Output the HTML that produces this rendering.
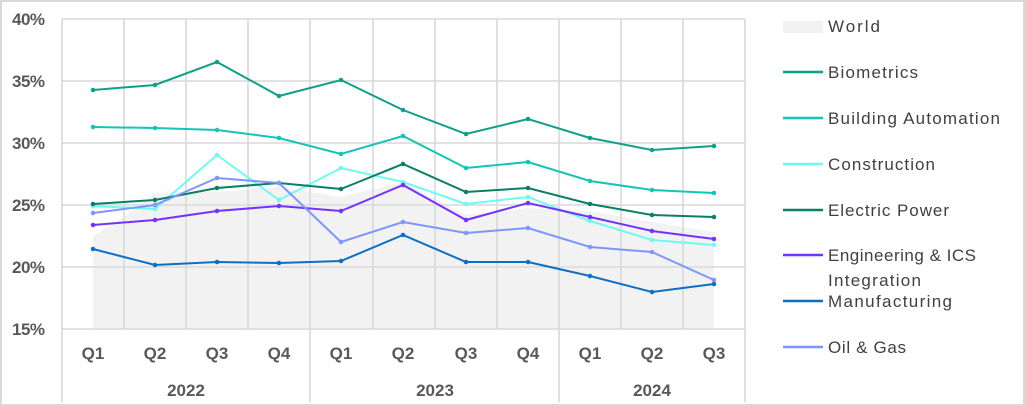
<!DOCTYPE html>
<html><head><meta charset="utf-8"><style>
body{margin:0;background:#fff}
svg{display:block;font-family:"Liberation Sans",sans-serif}
</style></head><body>
<svg width="1025" height="406" viewBox="0 0 1025 406">
<rect x="1" y="1" width="1023" height="404" fill="#fff" stroke="#d9d9d9" stroke-width="2"/>
<polygon fill="#f2f2f2" points="93,329 93,236 124,217 155,193 217,192 279,187 341,197 403,182 466,215 528,208 590,211 652,222 714,232 714,329"/>
<g stroke="#d9d9d9" stroke-width="1.6" fill="none">
<path d="M62,19H745M62,81H745M62,143H745M62,205H745M62,267H745M62,329H745"/>
<path d="M124,19V329M186,19V329M248,19V329M373,19V329M435,19V329M497,19V329M621,19V329M683,19V329"/>
<path d="M62,19V402M310,19V402M559,19V402M745,19V402"/>
</g>
<g font-size="17" font-weight="bold" fill="#595959" text-anchor="end">
<text x="45" y="25" textLength="33">40%</text><text x="45" y="87" textLength="33">35%</text><text x="45" y="149" textLength="33">30%</text><text x="45" y="211" textLength="33">25%</text><text x="45" y="273" textLength="33">20%</text><text x="45" y="335" textLength="33">15%</text>
</g>
<g font-size="17" font-weight="bold" fill="#595959" text-anchor="middle">
<text x="93" y="359">Q1</text><text x="155" y="359">Q2</text><text x="217" y="359">Q3</text><text x="279" y="359">Q4</text><text x="341" y="359">Q1</text><text x="403" y="359">Q2</text><text x="466" y="359">Q3</text><text x="528" y="359">Q4</text><text x="590" y="359">Q1</text><text x="652" y="359">Q2</text><text x="714" y="359">Q3</text>
<text x="186" y="396">2022</text><text x="435" y="396">2023</text><text x="652" y="396">2024</text>
</g>
<g fill="none" stroke-width="2">
<polyline stroke="#0FA08A" points="93,90 155,85 217,62 279,96 341,80 403,110 466,134 528,119 590,138 652,150 714,146"/>
<polyline stroke="#14C4B6" points="93,127 155,128 217,130 279,138 341,154 403,136 466,168 528,162 590,181 652,190 714,193"/>
<polyline stroke="#6EFAF2" points="93,206 155,209 217,155 279,200 341,168 403,182 466,204 528,197 590,221 652,240 714,245"/>
<polyline stroke="#0B7E66" points="93,204 155,200 217,188 279,183 341,189 403,164 466,192 528,188 590,204 652,215 714,217"/>
<polyline stroke="#7432FF" points="93,225 155,220 217,211 279,206 341,211 403,185 466,220 528,203 590,217 652,231 714,239"/>
<polyline stroke="#7E96FF" points="93,213 155,205 217,178 279,183 341,242 403,222 466,233 528,228 590,247 652,252 714,280"/>
<polyline stroke="#0B6FC4" points="93,249 155,265 217,262 279,263 341,261 403,235 466,262 528,262 590,276 652,292 714,284"/>
</g>
<g stroke-width="4.5" stroke-linecap="round" fill="none">
<path stroke="#0FA08A" d="M93,90h0M155,85h0M217,62h0M279,96h0M341,80h0M403,110h0M466,134h0M528,119h0M590,138h0M652,150h0M714,146h0"/>
<path stroke="#14C4B6" d="M93,127h0M155,128h0M217,130h0M279,138h0M341,154h0M403,136h0M466,168h0M528,162h0M590,181h0M652,190h0M714,193h0"/>
<path stroke="#6EFAF2" d="M93,206h0M155,209h0M217,155h0M279,200h0M341,168h0M403,182h0M466,204h0M528,197h0M590,221h0M652,240h0M714,245h0"/>
<path stroke="#0B7E66" d="M93,204h0M155,200h0M217,188h0M279,183h0M341,189h0M403,164h0M466,192h0M528,188h0M590,204h0M652,215h0M714,217h0"/>
<path stroke="#7432FF" d="M93,225h0M155,220h0M217,211h0M279,206h0M341,211h0M403,185h0M466,220h0M528,203h0M590,217h0M652,231h0M714,239h0"/>
<path stroke="#7E96FF" d="M93,213h0M155,205h0M217,178h0M279,183h0M341,242h0M403,222h0M466,233h0M528,228h0M590,247h0M652,252h0M714,280h0"/>
<path stroke="#0B6FC4" d="M93,249h0M155,265h0M217,262h0M279,263h0M341,261h0M403,235h0M466,262h0M528,262h0M590,276h0M652,292h0M714,284h0"/>
</g>
<rect x="783" y="21" width="40" height="12" fill="#f2f2f2"/>
<g stroke-width="2.5">
<line x1="783" y1="72" x2="823" y2="72" stroke="#0FA08A"/>
<line x1="783" y1="118" x2="823" y2="118" stroke="#14C4B6"/>
<line x1="783" y1="164" x2="823" y2="164" stroke="#6EFAF2"/>
<line x1="783" y1="210" x2="823" y2="210" stroke="#0B7E66"/>
<line x1="783" y1="255" x2="823" y2="255" stroke="#7432FF"/>
<line x1="783" y1="301" x2="823" y2="301" stroke="#0B6FC4"/>
<line x1="783" y1="347" x2="823" y2="347" stroke="#7E96FF"/>
</g>
<g font-size="17" fill="#404040">
<text x="828" y="32" textLength="52">World</text>
<text x="828" y="78" textLength="90">Biometrics</text>
<text x="828" y="124" textLength="172">Building Automation</text>
<text x="828" y="170" textLength="107">Construction</text>
<text x="828" y="216" textLength="121">Electric Power</text>
<text x="828" y="261" textLength="148">Engineering &amp; ICS</text>
<text x="828" y="286" textLength="93">Integration</text>
<text x="828" y="307" textLength="124">Manufacturing</text>
<text x="828" y="353" textLength="78">Oil &amp; Gas</text>
</g>
</svg>
</body></html>
